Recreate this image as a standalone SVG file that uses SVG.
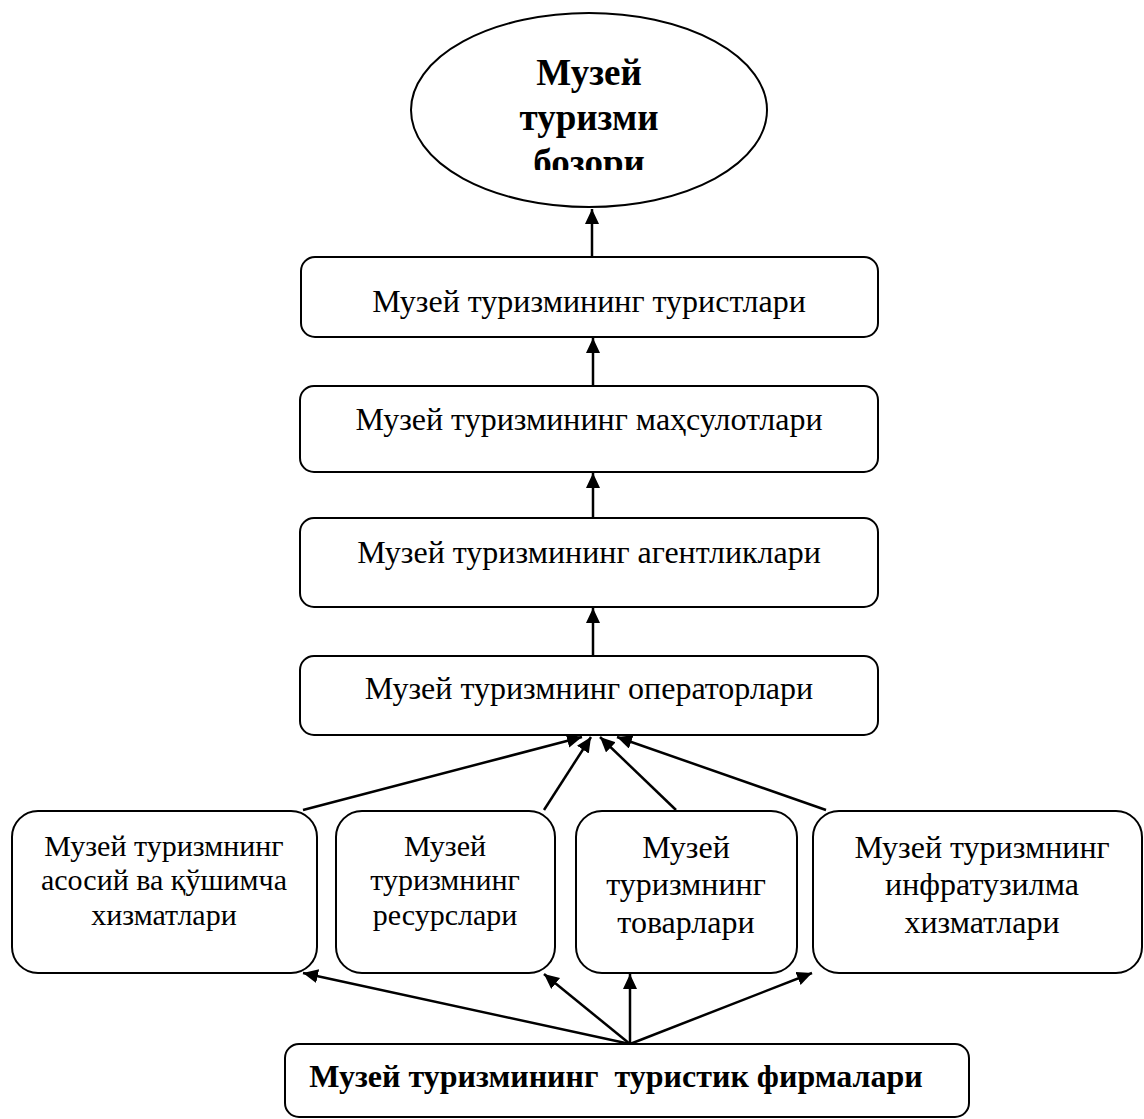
<svg xmlns="http://www.w3.org/2000/svg" width="1144" height="1119" viewBox="0 0 1144 1119">
<style>
.box{fill:#fff;stroke:#000;stroke-width:2}
.t{font-family:"Liberation Serif","Times New Roman",serif;fill:#000;text-anchor:middle}
.r{font-size:32px}
.s{font-size:30px}
.b{font-weight:bold}
.c{stroke:#000;stroke-width:2.5;fill:none;marker-end:url(#ah)}
</style>
<defs>
<marker id="ah" markerUnits="userSpaceOnUse" markerWidth="15" markerHeight="16" viewBox="0 0 15 16" refX="15" refY="7" orient="auto">
<path d="M0,0 L15,7 L0,14 Z" fill="#000"/>
</marker>
<clipPath id="ec"><rect x="400" y="0" width="380" height="170"/></clipPath>
</defs>
<g id="connectors">
<line class="c" x1="592" y1="257" x2="592" y2="209"/>
<line class="c" x1="593" y1="386" x2="593" y2="338"/>
<line class="c" x1="593" y1="518" x2="593" y2="473"/>
<line class="c" x1="593" y1="656" x2="593" y2="608"/>
<line class="c" x1="303" y1="810" x2="582" y2="737"/>
<line class="c" x1="544" y1="810" x2="591" y2="737"/>
<line class="c" x1="676" y1="810" x2="600" y2="737"/>
<line class="c" x1="826" y1="810" x2="617" y2="737"/>
<line class="c" x1="630" y1="1044" x2="303" y2="973"/>
<line class="c" x1="630" y1="1044" x2="544" y2="974"/>
<line class="c" x1="630" y1="1044" x2="630" y2="974"/>
<line class="c" x1="630" y1="1044" x2="812" y2="973"/>
</g>
<g id="market">
<ellipse class="box" cx="589" cy="110" rx="178" ry="97"/>
<g clip-path="url(#ec)">
<text class="t b" font-size="37" x="589" y="85">Музей</text>
<text class="t b" font-size="37" x="589" y="130">туризми</text>
<text class="t b" font-size="37" x="589" y="175">бозори</text>
</g>
</g>
<g id="tourists">
<rect class="box" x="301" y="257" width="577" height="80" rx="14"/>
<text class="t r" x="589" y="312">Музей туризмининг туристлари</text>
</g>
<g id="products">
<rect class="box" x="300" y="386" width="578" height="86" rx="14"/>
<text class="t r" x="589" y="430">Музей туризмининг маҳсулотлари</text>
</g>
<g id="agencies">
<rect class="box" x="300" y="518" width="578" height="89" rx="14"/>
<text class="t r" x="589" y="563">Музей туризмининг агентликлари</text>
</g>
<g id="operators">
<rect class="box" x="300" y="656" width="578" height="79" rx="14"/>
<text class="t r" x="589" y="699">Музей туризмнинг операторлари</text>
</g>
<g id="services">
<rect class="box" x="12" y="811" width="305" height="162" rx="26"/>
<text class="t s" x="164" y="856">Музей туризмнинг</text>
<text class="t s" x="164" y="890">асосий ва қўшимча</text>
<text class="t s" x="164" y="925">хизматлари</text>
</g>
<g id="resources">
<rect class="box" x="336" y="811" width="219" height="162" rx="26"/>
<text class="t s" x="445" y="856">Музей</text>
<text class="t s" x="445" y="890">туризмнинг</text>
<text class="t s" x="445" y="925">ресурслари</text>
</g>
<g id="goods">
<rect class="box" x="576" y="811" width="221" height="162" rx="26"/>
<text class="t r" x="686" y="858">Музей</text>
<text class="t r" x="686" y="895">туризмнинг</text>
<text class="t r" x="686" y="933">товарлари</text>
</g>
<g id="infrastructure">
<rect class="box" x="813" y="811" width="329" height="162" rx="26"/>
<text class="t r" x="982" y="858">Музей туризмнинг</text>
<text class="t r" x="982" y="895">инфратузилма</text>
<text class="t r" x="982" y="933">хизматлари</text>
</g>
<g id="firms">
<rect class="box" x="285" y="1044" width="684" height="73" rx="14"/>
<text class="t b" font-size="32" x="616" y="1087" xml:space="preserve">Музей туризмининг  туристик фирмалари</text>
</g>
</svg>
